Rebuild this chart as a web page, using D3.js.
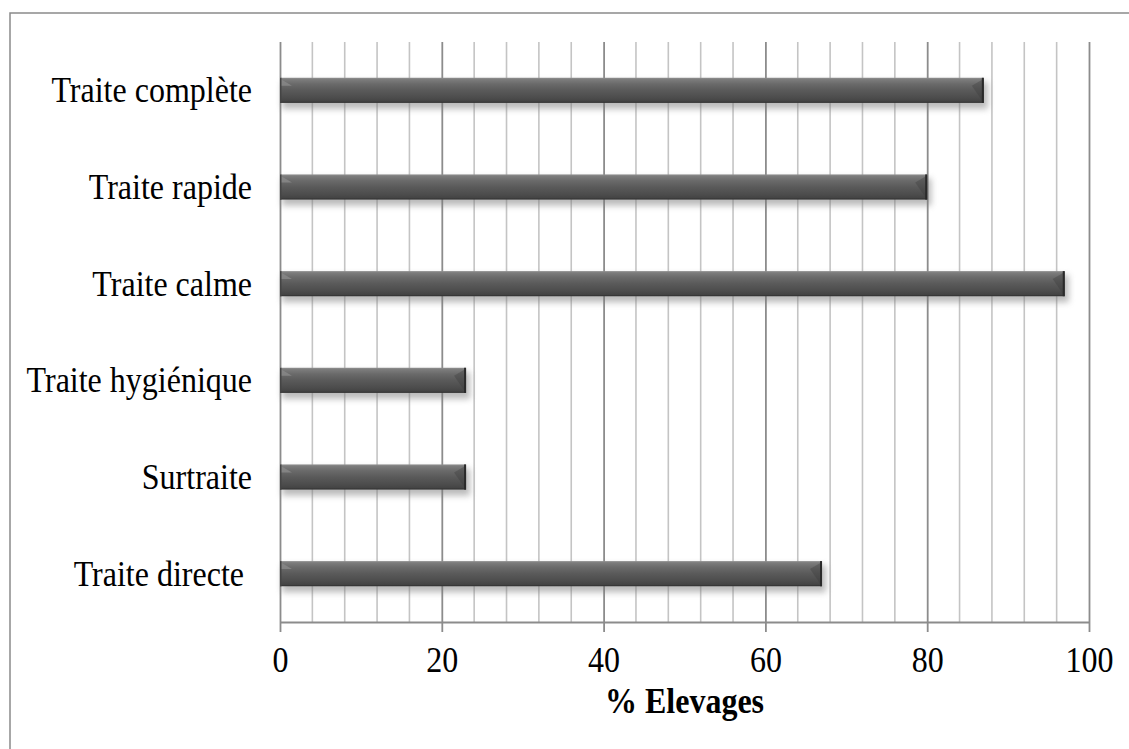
<!DOCTYPE html>
<html>
<head>
<meta charset="utf-8">
<script src="https://cdn.jsdelivr.net/npm/d3@7"></script>
<style>
html,body{margin:0;padding:0;background:#fff;}
svg{display:block;}
text{font-family:"Liberation Serif","Times New Roman",serif;fill:#000;}
</style>
</head>
<body>
<script>
const categories = ["Traite complète","Traite rapide","Traite calme","Traite hygiénique","Surtraite","Traite directe "];
const values = [87, 80, 97, 23, 23, 67];
const tickValues = [0, 20, 40, 60, 80, 100];
const tickLabels = ["0","20","40","60","80","100"];
const axisTitle = "% Elevages";

const W = 1129, H = 749;
const FS = 32, SY = 1.09;
const svg = d3.select("body").append("svg").attr("width", W).attr("height", H);

// outer frame
svg.append("rect").attr("x",10).attr("y",13).attr("width",1140).attr("height",760)
  .attr("fill","#fff").attr("stroke","#8a8a8a").attr("stroke-width",1.5);

const pL = 280, pR = 1089, pT = 42, pB = 622;
const x = d3.scaleLinear().domain([0,100]).range([pL,pR]);
const y = d3.scaleBand().domain(categories).range([pT,pB]).paddingInner(0.74).paddingOuter(0.37);

const defs = svg.append("defs");
const g1 = defs.append("linearGradient").attr("id","barGrad").attr("x1",0).attr("y1",0).attr("x2",0).attr("y2",1);
[[0,"#909090"],[0.07,"#7c7c7c"],[0.25,"#6a6a6a"],[0.5,"#5a5a5a"],[0.8,"#4c4c4c"],[0.93,"#444"],[1,"#2e2e2e"]]
  .forEach(s=>g1.append("stop").attr("offset",s[0]).attr("stop-color",s[1]));
const f = defs.append("filter").attr("id","shadow").attr("x","-10%").attr("y","-50%").attr("width","120%").attr("height","250%");
f.append("feGaussianBlur").attr("stdDeviation",3);

// minor gridlines
const minor = d3.range(0,101,4).filter(v=>v%20!==0);
svg.append("g").selectAll("line").data(minor).join("line")
  .attr("x1",d=>x(d)).attr("x2",d=>x(d)).attr("y1",pT).attr("y2",pB)
  .attr("stroke","#c4c4c4").attr("stroke-width",1.6);

// axis
const axis = d3.axisBottom(x).tickValues(tickValues).tickFormat((d,i)=>tickLabels[i])
  .tickSizeOuter(0).tickPadding(0);
const ag = svg.append("g").attr("transform",`translate(0,${pB})`).call(axis);
ag.select(".domain").attr("stroke","#8c8c8c").attr("stroke-width",1.8);
ag.selectAll(".tick line").attr("stroke","#8c8c8c").attr("stroke-width",1.8).attr("y2",10).attr("y1",-(pB-pT));
ag.selectAll(".tick text").attr("font-size",FS).attr("font-family","Liberation Serif")
  .attr("fill","#000").attr("dy",0).attr("y",0).attr("transform",`translate(0,50) scale(1,${SY})`);

// bars
const bars = svg.append("g");
categories.forEach((c,i)=>{
  const by = y(c), bh = y.bandwidth(), x0 = x(0), x1 = x(values[i]);
  const gg = bars.append("g");
  gg.append("rect").attr("x",x0+2).attr("y",by+4).attr("width",x1-x0+2).attr("height",bh+2)
    .attr("fill","#777").attr("opacity",0.5).attr("filter","url(#shadow)");
  gg.append("rect").attr("x",x0).attr("y",by).attr("width",x1-x0).attr("height",bh)
    .attr("fill","url(#barGrad)");
  const bv = 8;
  gg.append("path").attr("d",`M${x0},${by+1}L${x0+bv+4},${by+bv}L${x0+1},${by+bv}Z`).attr("fill","#8a8a8a").attr("opacity",0.8);
  gg.append("path").attr("d",`M${x1},${by+1}L${x1-bv-4},${by+bv}L${x1},${by+bh}Z`).attr("fill","#3a3a3a").attr("opacity",0.35);
  gg.append("rect").attr("x",x1-2).attr("y",by).attr("width",2).attr("height",bh).attr("fill","#2a2a2a");
  gg.append("rect").attr("x",x0).attr("y",by).attr("width",1.5).attr("height",bh).attr("fill","#444");
});

// category labels
svg.append("g").selectAll("text").data(categories).join("text")
  .attr("transform",d=>`translate(252,${y(d)+y.bandwidth()/2+12}) scale(1,${SY})`)
  .attr("text-anchor","end").attr("font-size",FS)
  .style("white-space","pre")
  .text(d=>d);

// axis title
svg.append("text").attr("transform",`translate(${(pL+pR)/2},713) scale(1,${SY})`).attr("text-anchor","middle")
  .attr("font-size",FS).attr("font-weight","bold").text(axisTitle);
</script>
</body>
</html>
